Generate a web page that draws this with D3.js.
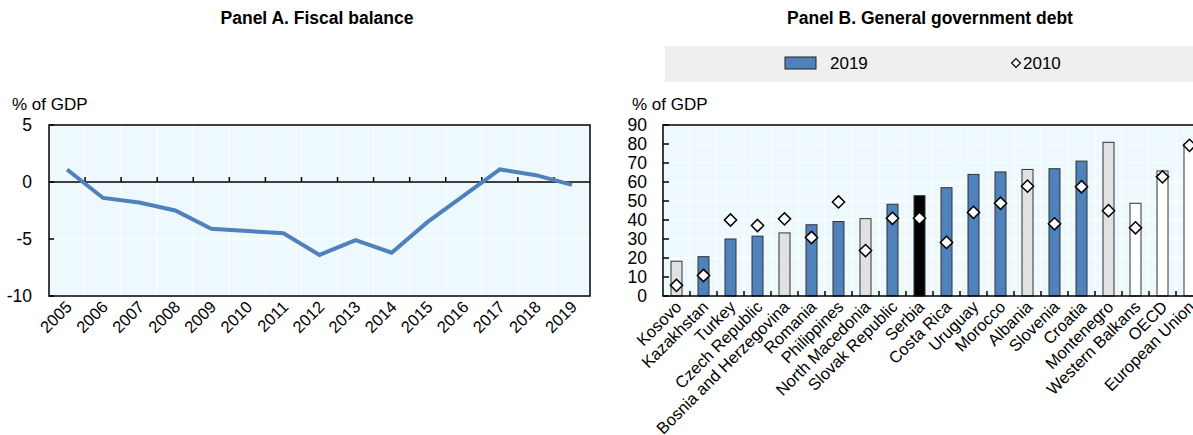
<!DOCTYPE html>
<html lang="en">
<head>
    <meta charset="UTF-8">
    <title>Fiscal balance and general government debt</title>
    <script src="https://d3js.org/d3.v7.min.js"></script>
    <style>
        body { margin: 0; background: #fff; }
        svg { display: block; font-family: "Liberation Sans Narrow", "Arial Narrow", "Liberation Sans", Arial, sans-serif; }
        .title { font-weight: bold; font-size: 17.5px; }
        .unit { font-size: 17px; }
        .ylab { font-size: 17.5px; }
        .xlab { font-size: 16.5px; }
    </style>
</head>
<body>
<div id="chart"></div>
<script>
// Panel A: fiscal balance, % of GDP
const years = ["2005", "2006", "2007", "2008", "2009", "2010", "2011", "2012", "2013", "2014", "2015", "2016", "2017", "2018", "2019"];
const balance = [1.1, -1.4, -1.8, -2.5, -4.1, -4.3, -4.5, -6.4, -5.1, -6.2, -3.5, -1.2, 1.1, 0.6, -0.25];
const ticksA = [-10, -5, 0, 5];

// Panel B: general government debt, % of GDP
const countries = ["Kosovo", "Kazakhstan", "Turkey", "Czech Republic", "Bosnia and Herzegovina", "Romania",
    "Philippines", "North Macedonia", "Slovak Republic", "Serbia", "Costa Rica", "Uruguay", "Morocco",
    "Albania", "Slovenia", "Croatia", "Montenegro", "Western Balkans", "OECD", "European Union"];
const debt2019 = [18.3, 20.7, 30, 31.5, 33.2, 37.5, 39.2, 40.7, 48.3, 52.8, 57, 64, 65.3, 66.6, 67, 71, 80.9, 48.8, 65.8, 80];
const debt2010 = [5.6, 10.8, 40, 37.1, 40.6, 30.8, 49.5, 23.9, 40.9, 40.9, 28.2, 44, 48.8, 57.8, 38, 57.5, 44.9, 35.9, 62.7, 79.3];
// bar group: b = blue, g = grey (Western Balkans), k = Serbia, w = aggregates
const groups = ["g", "b", "b", "b", "g", "b", "b", "g", "b", "k", "b", "b", "b", "g", "b", "b", "g", "w", "w", "w"];
const ticksB = [0, 10, 20, 30, 40, 50, 60, 70, 80, 90];

const fillOf = { b: "#4f81bd", g: "#e1e1e1", k: "#000000", w: "#ffffff" };
const plotBg = "#eef9fd";

const svg = d3.select("#chart").append("svg")
    .attr("width", 1193)
    .attr("height", 435);

// ---------- Panel A ----------
const a = { left: 49, right: 590, top: 125, bottom: 296 };

svg.append("text").attr("class", "title")
    .attr("x", 317).attr("y", 24).attr("text-anchor", "middle")
    .text("Panel A. Fiscal balance");

svg.append("text").attr("class", "unit")
    .attr("x", 12).attr("y", 110).text("% of GDP");

const xA = d3.scaleBand().domain(years).range([a.left, a.right]);
const yA = d3.scaleLinear().domain([-10, 5]).range([a.bottom, a.top]);

svg.append("rect")
    .attr("x", a.left).attr("y", a.top)
    .attr("width", a.right - a.left).attr("height", a.bottom - a.top)
    .attr("fill", plotBg);

// white gridlines
svg.append("g").selectAll("line")
    .data(years.slice(1))
    .join("line")
    .attr("x1", d => xA(d)).attr("x2", d => xA(d))
    .attr("y1", a.top).attr("y2", a.bottom)
    .attr("stroke", "#fff").attr("stroke-width", 1);
svg.append("g").selectAll("line")
    .data(ticksA.slice(1, -1))
    .join("line")
    .attr("x1", a.left).attr("x2", a.right)
    .attr("y1", d => yA(d)).attr("y2", d => yA(d))
    .attr("stroke", "#fff").attr("stroke-width", 1);

// zero line with band ticks
svg.append("line")
    .attr("x1", a.left).attr("x2", a.right)
    .attr("y1", yA(0)).attr("y2", yA(0))
    .attr("stroke", "#000").attr("stroke-width", 1.5);
svg.append("g").selectAll("line")
    .data(years.slice(1))
    .join("line")
    .attr("x1", d => xA(d)).attr("x2", d => xA(d))
    .attr("y1", yA(0)).attr("y2", yA(0) - 5)
    .attr("stroke", "#000").attr("stroke-width", 1.5);

// left ticks, inward
svg.append("g").selectAll("line")
    .data(ticksA)
    .join("line")
    .attr("x1", a.left).attr("x2", a.left + 5)
    .attr("y1", d => yA(d)).attr("y2", d => yA(d))
    .attr("stroke", "#000").attr("stroke-width", 1.5);

svg.append("g").selectAll("text")
    .data(ticksA)
    .join("text")
    .attr("class", "ylab")
    .attr("x", a.left - 17).attr("y", d => yA(d) + 6)
    .attr("text-anchor", "end")
    .text(d => d);

const line = d3.line()
    .x((d, i) => xA(years[i]) + xA.bandwidth() / 2)
    .y(d => yA(d));

svg.append("path")
    .datum(balance)
    .attr("d", line)
    .attr("fill", "none")
    .attr("stroke", "#4f81bd")
    .attr("stroke-width", 4);

svg.append("rect")
    .attr("x", a.left).attr("y", a.top)
    .attr("width", a.right - a.left).attr("height", a.bottom - a.top)
    .attr("fill", "none").attr("stroke", "#000").attr("stroke-width", 1.5);

svg.append("g").selectAll("text")
    .data(years)
    .join("text")
    .attr("class", "xlab")
    .attr("text-anchor", "end")
    .attr("transform", d => `translate(${xA(d) + xA.bandwidth() / 2 + 6},${a.bottom + 12}) rotate(-45)`)
    .text(d => d);

// ---------- Panel B ----------
const b = { left: 663, right: 663 + 27 * countries.length, top: 125, bottom: 296 };

svg.append("text").attr("class", "title")
    .attr("x", 930).attr("y", 24).attr("text-anchor", "middle")
    .text("Panel B. General government debt");

// legend
svg.append("rect")
    .attr("x", 665).attr("y", 46).attr("width", 540).attr("height", 36)
    .attr("fill", "#efefef");
svg.append("rect")
    .attr("x", 785).attr("y", 57).attr("width", 31).attr("height", 12)
    .attr("fill", fillOf.b).attr("stroke", "#222").attr("stroke-width", 1);
svg.append("text").attr("class", "unit")
    .attr("x", 830).attr("y", 69).text("2019");
svg.append("path")
    .attr("d", d3.symbol(d3.symbolDiamond2, 50)())
    .attr("transform", "translate(1016,63)")
    .attr("fill", "#fff").attr("stroke", "#000").attr("stroke-width", 1.2);
svg.append("text").attr("class", "unit")
    .attr("x", 1023).attr("y", 69).text("2010");

svg.append("text").attr("class", "unit")
    .attr("x", 632).attr("y", 110).text("% of GDP");

const xB = d3.scaleBand().domain(countries).range([b.left, b.right]);
const yB = d3.scaleLinear().domain([0, 90]).range([b.bottom, b.top]);
const barW = 11;

svg.append("rect")
    .attr("x", b.left).attr("y", b.top)
    .attr("width", b.right - b.left).attr("height", b.bottom - b.top)
    .attr("fill", plotBg);

svg.append("g").selectAll("line")
    .data(countries.slice(1))
    .join("line")
    .attr("x1", d => xB(d)).attr("x2", d => xB(d))
    .attr("y1", b.top).attr("y2", b.bottom)
    .attr("stroke", "#fff").attr("stroke-width", 1);
svg.append("g").selectAll("line")
    .data(ticksB.slice(1, -1))
    .join("line")
    .attr("x1", b.left).attr("x2", b.right)
    .attr("y1", d => yB(d)).attr("y2", d => yB(d))
    .attr("stroke", "#fff").attr("stroke-width", 1);

svg.append("g").selectAll("rect")
    .data(countries)
    .join("rect")
    .attr("x", d => xB(d) + xB.bandwidth() / 2 - barW / 2)
    .attr("y", (d, i) => yB(debt2019[i]))
    .attr("width", barW)
    .attr("height", (d, i) => yB(0) - yB(debt2019[i]))
    .attr("fill", (d, i) => fillOf[groups[i]])
    .attr("stroke", "#333").attr("stroke-width", 1);

// axis ticks, inward
svg.append("g").selectAll("line")
    .data(countries.slice(1))
    .join("line")
    .attr("x1", d => xB(d)).attr("x2", d => xB(d))
    .attr("y1", b.bottom).attr("y2", b.bottom - 5)
    .attr("stroke", "#000").attr("stroke-width", 1.5);
svg.append("g").selectAll("line")
    .data(ticksB)
    .join("line")
    .attr("x1", b.left).attr("x2", b.left + 6)
    .attr("y1", d => yB(d)).attr("y2", d => yB(d))
    .attr("stroke", "#000").attr("stroke-width", 1.5);

svg.append("g").selectAll("path")
    .data(countries)
    .join("path")
    .attr("d", d3.symbol(d3.symbolDiamond2, 95)())
    .attr("transform", (d, i) => `translate(${xB(d) + xB.bandwidth() / 2},${yB(debt2010[i])})`)
    .attr("fill", "#fff").attr("stroke", "#000").attr("stroke-width", 1.5);

svg.append("rect")
    .attr("x", b.left).attr("y", b.top)
    .attr("width", b.right - b.left).attr("height", b.bottom - b.top)
    .attr("fill", "none").attr("stroke", "#000").attr("stroke-width", 1.5);

svg.append("g").selectAll("text")
    .data(ticksB)
    .join("text")
    .attr("class", "ylab")
    .attr("x", b.left - 16).attr("y", d => yB(d) + 6)
    .attr("text-anchor", "end")
    .text(d => d);

svg.append("g").selectAll("text")
    .data(countries)
    .join("text")
    .attr("class", "xlab")
    .attr("text-anchor", "end")
    .attr("transform", d => `translate(${xB(d) + xB.bandwidth() / 2 + 6},${b.bottom + 12}) rotate(-45)`)
    .text(d => d);
</script>
</body>
</html>
